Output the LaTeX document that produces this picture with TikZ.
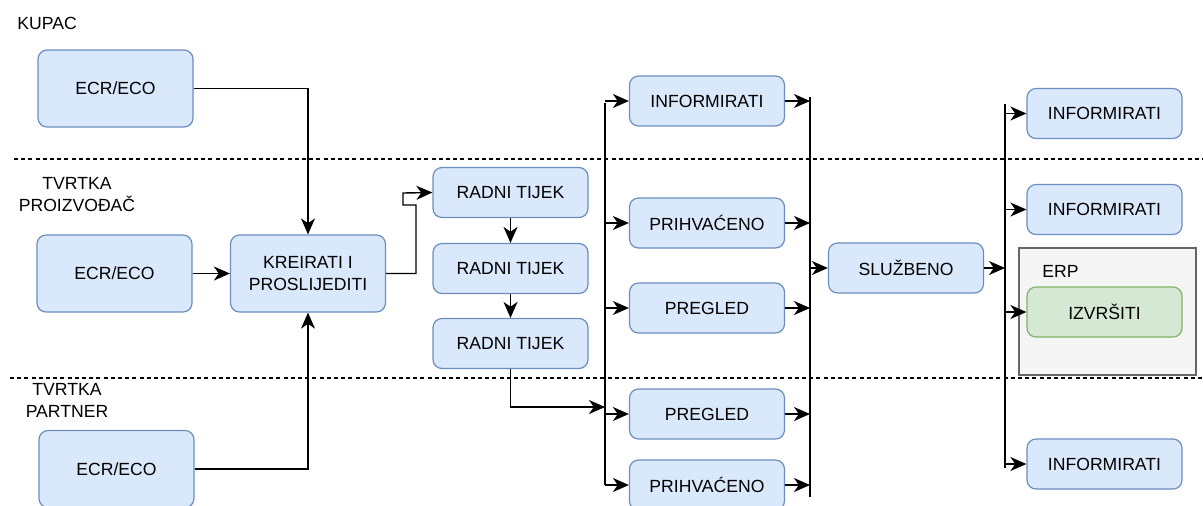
\documentclass[tikz,border=0pt]{standalone}
\usepackage{fontspec}
\setmainfont{Liberation Sans}
\usepackage{tikz}
\usetikzlibrary{arrows.meta}
\definecolor{cb}{RGB}{0,0,0}
\definecolor{cbox}{HTML}{DAE8FC}
\definecolor{cboxd}{HTML}{6C8EBF}
\definecolor{cgrn}{HTML}{D5E8D4}
\definecolor{cgrnd}{HTML}{82B366}
\definecolor{cerp}{HTML}{F5F5F5}
\definecolor{cerpd}{HTML}{666666}
\tikzstyle{task}=[draw=cboxd, fill=cbox, line width=0.6pt, rounded corners=4.5pt, minimum width=77.5pt, minimum height=25pt, inner sep=0pt, align=center]
\tikzstyle{source}=[task, minimum height=38.5pt]
\tikzstyle{erp task}=[task, draw=cgrnd, fill=cgrn]
\tikzstyle{erp box}=[draw=cerpd, fill=cerp, line width=0.6pt, minimum width=88.5pt, minimum height=63.5pt, inner sep=0pt]
\tikzstyle{lane}=[align=center, inner sep=0pt]
\tikzstyle{arrow}=[cb, line width=0.7pt, -{Stealth[length=8pt,width=7pt,inset=2.4pt]}]
\tikzstyle{bus}=[cb, line width=0.7pt]
\tikzstyle{swimlane}=[cb, line width=0.6pt, dash pattern=on 2pt off 1.6pt]

\begin{document}
\begin{tikzpicture}[x=0.5pt, y=-0.5pt, font=\fontsize{8.8}{11}\selectfont]
  \clip (0,0) rectangle (1203,505);
  \draw [swimlane] (14,159) -- (1203,159);
  \draw [swimlane] (10,378) -- (1203,378);

  \node [lane, anchor=west] (lane-1) at (17,23) {KUPAC};
  \node [lane] (lane-2) at (77,195) {TVRTKA\\PROIZVOĐAČ};
  \node [lane] (lane-3) at (67,400) {TVRTKA\\PARTNER};

  \node [source] (ecr-1) at (115.5,88.5) {ECR/ECO};
  \node [source] (ecr-2) at (114.5,273.5) {ECR/ECO};
  \node [source] (ecr-3) at (116.5,469) {ECR/ECO};
  \node [source] (kre) at (308,273.5) {KREIRATI I\\PROSLIJEDITI};

  \draw [arrow] (ecr-1) -| (kre);
  \draw [arrow] (ecr-2) -- (kre);
  \draw [arrow] (ecr-3) -| (kre);

  \foreach \y [count=\i] in {192.5,268.5,343.5}
    \node [task] (rad-\i) at (510.5,\y) {RADNI TIJEK};
  \draw [arrow] (rad-1) -- (rad-2);
  \draw [arrow] (rad-2) -- (rad-3);
  \draw [arrow] (kre.east) -| (416,205) -| (403,193) -- (rad-1.west);

  \coordinate (busA-top) at (605,103);
  \coordinate (busA-bot) at (605,485);
  \coordinate (busB-top) at (810,97);
  \coordinate (busB-bot) at (810,497);
  \coordinate (busC-top) at (1005,104);
  \coordinate (busC-bot) at (1005,468);
  \coordinate (join) at (605,407);
  \draw [bus] (busA-top) -- (busA-bot);
  \draw [bus] (busB-top) -- (busB-bot);
  \draw [bus] (busC-top) -- (busC-bot);

  \draw [arrow] (rad-3) |- (join);

  \foreach \t/\y [count=\i] in {INFORMIRATI/101, PRIHVAĆENO/223, PREGLED/308, PREGLED/414, PRIHVAĆENO/485}{
    \node [task] (chk-\i) at (707,\y) {\t};
    \draw [arrow] (busA-top |- chk-\i) -- (chk-\i);
    \draw [arrow] (chk-\i) -- (busB-top |- chk-\i);
  }

  \node [task] (slu) at (906,268) {SLUŽBENO};
  \draw [arrow] (busB-top |- slu) -- (slu);
  \draw [arrow] (slu) -- (busC-top |- slu);

  \node [erp box] (erp) at (1107.5,311.5) {};
  \node [lane, anchor=west] (erp-label) at (1042,271) {ERP};
  \foreach \y [count=\i] in {113.5,209.5,464}
    \node [task] (inf-\i) at (1104.5,\y) {INFORMIRATI};
  \node [erp task] (izv) at (1104.5,312) {IZVRŠITI};
  \foreach \n in {inf-1,inf-2,izv,inf-3}
    \draw [arrow] (busC-top |- \n) -- (\n);
\end{tikzpicture}
\end{document}
